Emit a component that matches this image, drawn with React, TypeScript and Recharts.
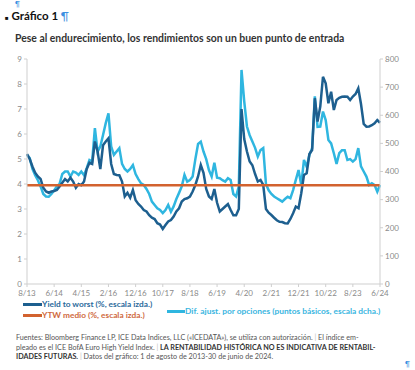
import { LineChart, Line, XAxis, YAxis, ReferenceLine } from 'recharts';

// monthly, 8/13 .. 6/24
const yieldToWorst = [
    5.2, 5.0, 4.7, 4.45, 4.3, 4.2, 3.85, 3.7, 3.65, 3.7,
    3.72, 3.76, 3.9, 4.05, 4.2, 4.1, 4.25, 4.1, 3.85, 4.0,
    3.95, 4.1, 4.6, 4.85, 4.8, 5.7, 5.3, 4.6, 5.55, 5.7,
    5.83, 4.8, 4.4, 4.36, 4.35, 4.1, 3.5, 3.65, 3.45, 3.76,
    3.35, 3.2, 3.1, 2.96, 2.9, 2.75, 2.65, 2.6, 2.43, 2.38,
    2.2, 2.36, 2.5, 2.56, 2.7, 2.9, 3.03, 3.3, 3.4, 3.43,
    3.5, 3.7, 3.96, 4.3, 4.76, 4.45, 3.8, 3.5, 3.4, 3.8,
    3.25, 2.9, 3.0, 3.1, 3.2, 2.96, 2.75, 2.75, 3.0, 7.0,
    5.8, 5.3, 4.9, 4.75, 4.4, 4.1, 4.16, 3.96, 3.0, 2.85,
    2.76, 2.65, 2.55, 2.49, 2.48, 2.43, 2.42, 2.6, 2.83, 3.1,
    3.03, 3.63, 4.36, 4.43, 5.2, 5.36, 7.43, 6.5, 7.1, 8.29,
    8.03, 7.23, 7.69, 6.96, 7.36, 7.45, 7.49, 7.5, 7.49, 7.36,
    7.5, 7.6, 7.83, 7.2, 6.4, 6.29, 6.3, 6.35, 6.43, 6.56,
    6.45,
];

// option-adjusted spread, bps (right axis)
const oasSpread = [
    459, 448, 409, 387, 369, 347, 320, 311, 310, 320,
    333, 347, 356, 391, 400, 400, 382, 400, 396, 388,
    400, 387, 412, 441, 436, 554, 471, 489, 530, 572,
    607, 489, 459, 471, 483, 427, 409, 400, 409, 423,
    391, 373, 358, 352, 338, 320, 293, 281, 269, 263,
    252, 263, 281, 257, 276, 302, 324, 347, 388, 364,
    370, 382, 444, 498, 506, 471, 444, 405, 382, 431,
    378, 376, 369, 364, 376, 370, 320, 311, 347, 761,
    649, 560, 529, 507, 484, 453, 476, 483, 356, 333,
    320, 311, 305, 299, 293, 302, 310, 305, 334, 370,
    405, 352, 441, 417, 459, 483, 667, 559, 560, 613,
    583, 512, 500, 465, 427, 465, 476, 476, 441, 444,
    435, 444, 483, 418, 400, 382, 352, 358, 352, 328,
    352,
];

const ytwAverage = 3.95;

const months = yieldToWorst.map((_, i) => {
    const m = (7 + i) % 12 + 1;
    const y = 13 + Math.floor((7 + i) / 12);
    return `${m}/${y}`;
});

const xTicks = [0, 10, 20, 30, 40, 50, 60, 70, 80, 90, 100, 110, 120, 130];
const leftTicks = [0, 1, 2, 3, 4, 5, 6, 7, 8, 9];
const rightTicks = [0, 100, 200, 300, 400, 500, 600, 700, 800];

const data = yieldToWorst.map((v, i) => ({ i, month: months[i], ytw: v, oas: oasSpread[i] }));

const DARK = '#1d5f8f';
const CYAN = '#2fb6e0';
const ORANGE = '#d2622f';
const AXIS = '#cfcfcf';
const TICK = { fill: '#8a8a8a', fontSize: 8, fontFamily: 'Lato' };

const sep = <span style={{ color: '#bbb' }}> | </span>;

export default function App() {
    return (
        <div style={{ position: 'absolute', left: 0, top: 0, width: 415, height: 370, background: '#fff', overflow: 'hidden' }}>
            <div style={{ position: 'absolute', left: 15, top: 0, color: '#3d8fe0', fontSize: 7, lineHeight: '8px', fontFamily: 'Lato' }}>¶</div>
            <div style={{ position: 'absolute', left: 5, top: 9, fontFamily: 'Lato', fontWeight: 700, fontSize: 11.5, color: '#111', whiteSpace: 'nowrap' }}>
                <span style={{ fontSize: 6 }}>■</span> Gráfico 1 <span style={{ color: '#3d8fe0', fontWeight: 400 }}>¶</span>
            </div>
            <div style={{ position: 'absolute', left: 15, top: 32, fontFamily: 'Lato', fontWeight: 700, fontSize: 10.4, color: '#333', whiteSpace: 'nowrap' }}>
                Pese al endurecimiento, los rendimientos son un buen punto de entrada
            </div>

            <div style={{ position: 'absolute', left: 0, top: 0 }}>
                <LineChart width={415} height={370} data={data} margin={{ top: 59, right: 5, bottom: 66, left: 5 }}>
                    <XAxis
                        dataKey="i"
                        type="number"
                        domain={[0, 130]}
                        ticks={xTicks}
                        tickFormatter={(v: number) => months[v]}
                        interval={0}
                        stroke={AXIS}
                        tickSize={3}
                        tickMargin={3}
                        tick={TICK}
                        height={20}
                    />
                    <YAxis
                        yAxisId="left"
                        domain={[0, 9]}
                        ticks={leftTicks}
                        interval={0}
                        stroke={AXIS}
                        tickSize={3}
                        tick={TICK}
                        width={22}
                    />
                    <YAxis
                        yAxisId="right"
                        orientation="right"
                        domain={[0, 800]}
                        ticks={rightTicks}
                        interval={0}
                        stroke={AXIS}
                        tickSize={3}
                        tick={TICK}
                        width={30}
                    />
                    <Line yAxisId="right" dataKey="oas" stroke={CYAN} strokeWidth={2.5} dot={false} isAnimationActive={false} />
                    <Line yAxisId="left" dataKey="ytw" stroke={DARK} strokeWidth={2.5} dot={false} isAnimationActive={false} />
                    <ReferenceLine yAxisId="left" y={ytwAverage} stroke={ORANGE} strokeWidth={2.3} />
                </LineChart>
            </div>

            <div style={{ position: 'absolute', left: 23, top: 299, fontFamily: 'Lato', fontWeight: 700, fontSize: 8.3, whiteSpace: 'nowrap', lineHeight: '11px' }}>
                <div style={{ color: '#2b6a9b', display: 'flex', alignItems: 'center' }}>
                    <span style={{ display: 'inline-block', width: 19, height: 2.5, background: DARK }} />
                    Yield to worst (%, escala izda.)
                </div>
                <div style={{ color: '#cf6a3e', display: 'flex', alignItems: 'center' }}>
                    <span style={{ display: 'inline-block', width: 19, height: 2.5, background: ORANGE }} />
                    YTW medio (%, escala izda.)
                </div>
            </div>
            <div style={{ position: 'absolute', left: 167, top: 306, fontFamily: 'Lato', fontWeight: 700, fontSize: 8.4, whiteSpace: 'nowrap', lineHeight: '11px', color: '#3ab6df', display: 'flex', alignItems: 'center' }}>
                <span style={{ display: 'inline-block', width: 18, height: 2.5, background: CYAN }} />
                Dif. ajust. por opciones (puntos básicos, escala dcha.)
            </div>

            <div style={{ position: 'absolute', left: 16, top: 333, width: 395, fontFamily: 'Lato', fontSize: 7.2, lineHeight: '9.6px', color: '#555', whiteSpace: 'nowrap' }}>
                <div>Fuentes: Bloomberg Finance LP, ICE Data Indices, LLC («ICEDATA»), se utiliza con autorización. {sep} El índice em-</div>
                <div>pleado es el ICE BofA Euro High Yield Index. {sep} <b style={{ color: '#333' }}>LA RENTABILIDAD HISTÓRICA NO ES INDICATIVA DE RENTABIL-</b></div>
                <div><b style={{ color: '#333' }}>IDADES FUTURAS.</b> {sep} Datos del gráfico: 1 de agosto de 2013-30 de junio de 2024.</div>
            </div>
            <div style={{ position: 'absolute', left: 405, top: 360, color: '#3d8fe0', fontSize: 7, lineHeight: '8px', fontFamily: 'Lato' }}>¶</div>
        </div>
    );
}
